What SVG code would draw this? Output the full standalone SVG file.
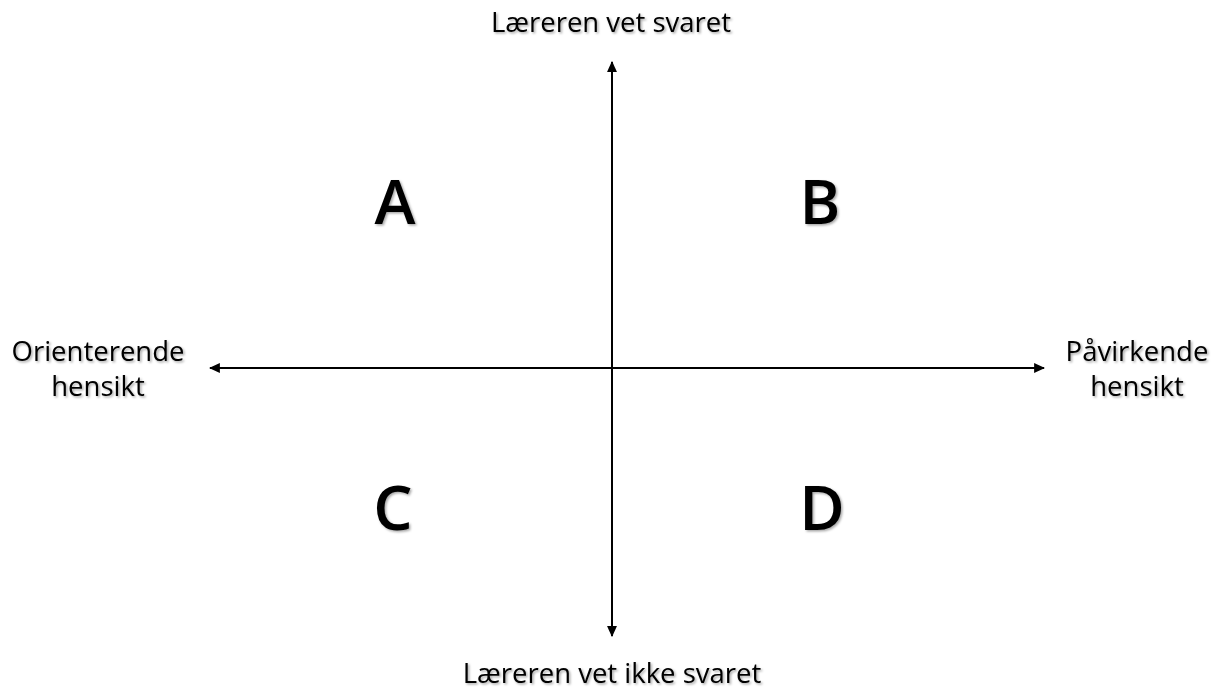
<svg xmlns="http://www.w3.org/2000/svg" width="1221" height="691" viewBox="0 0 1221 691">
<defs>
<marker id="ah" viewBox="0 0 10 10" refX="9" refY="5" markerWidth="5.5" markerHeight="5.5" orient="auto-start-reverse" markerUnits="strokeWidth"><path d="M0,0.5 L10,5 L0,9.5 Z" fill="#000"/></marker>
<filter id="sh" x="-10%" y="-10%" width="130%" height="140%"><feDropShadow dx="1.5" dy="1.5" stdDeviation="1" flood-color="#000" flood-opacity="0.35"/></filter>
</defs>
<style>
.lbl{font-family:"Open Sans","Noto Sans",sans-serif;font-size:27.5px;font-weight:500;fill:#000;text-anchor:middle;filter:url(#sh)}
.q{font-family:"Open Sans","Noto Sans",sans-serif;font-size:62px;font-weight:600;fill:#000;text-anchor:middle;filter:url(#sh)}
.ax{stroke:#000;stroke-width:2;fill:none;marker-start:url(#ah);marker-end:url(#ah)}
</style>
<rect width="1221" height="691" fill="#fff"/>
<g id="connectors">
<line class="ax" x1="612" y1="62" x2="612" y2="636"/>
<line class="ax" x1="210" y1="368" x2="1044" y2="368"/>
</g>
<g id="top"><text class="lbl" x="611" y="32">Læreren vet svaret</text></g>
<g id="bottom"><text class="lbl" x="612" y="683">Læreren vet ikke svaret</text></g>
<g id="left"><text class="lbl" x="98" y="361">Orienterende</text><text class="lbl" x="98" y="396">hensikt</text></g>
<g id="right"><text class="lbl" x="1137" y="361">Påvirkende</text><text class="lbl" x="1137" y="396">hensikt</text></g>
<g id="A"><text class="q" x="395" y="224">A</text></g>
<g id="B"><text class="q" x="820" y="224">B</text></g>
<g id="C"><text class="q" x="393" y="530">C</text></g>
<g id="D"><text class="q" x="822" y="530">D</text></g>
</svg>
